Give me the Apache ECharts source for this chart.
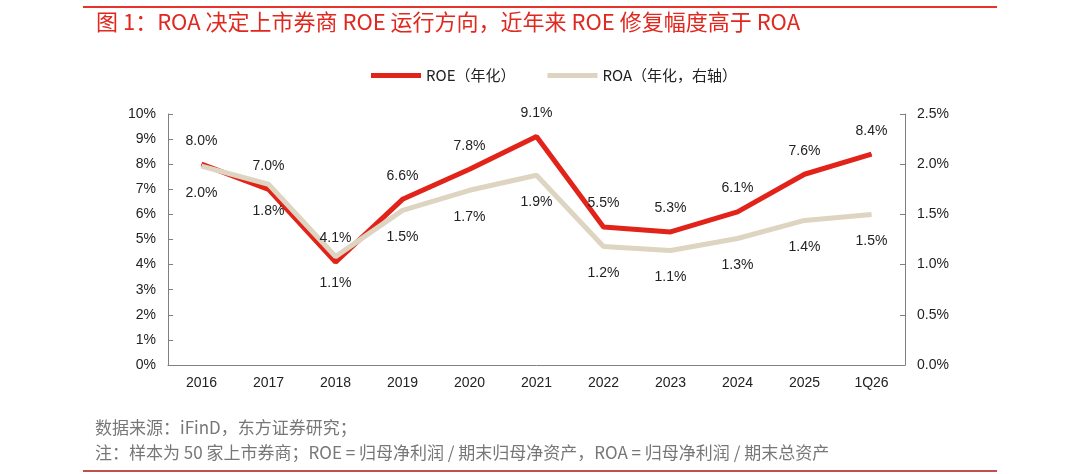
<!DOCTYPE html>
<html>
<head>
<meta charset="utf-8">
<script src="https://cdn.jsdelivr.net/npm/echarts@6/dist/echarts.min.js"></script>
<style>
    html, body {margin: 0; padding: 0; background: #fff;}
    #chart {width: 1080px; height: 474px;}
</style>
</head>
<body>
<div id="chart"></div>
<script>
const categories = ['2016', '2017', '2018', '2019', '2020', '2021', '2022', '2023', '2024', '2025', '1Q26'];
const roe = [8.0, 7.0, 4.1, 6.6, 7.8, 9.1, 5.5, 5.3, 6.1, 7.6, 8.4];
const roa = [1.98, 1.80, 1.08, 1.54, 1.74, 1.89, 1.18, 1.14, 1.26, 1.44, 1.50];
const leftTicks = {min: 0, max: 10, interval: 1};
const rightTicks = {min: 0, max: 2.5, interval: 0.5};

const font = '"Liberation Sans", Arial, sans-serif';
const cjk = '"Noto Sans CJK SC", sans-serif';
const axisColor = '#808080';

const pct = p => p.value.toFixed(1) + '%';

// tiny symbol in the line colour so the labels have something to hang on
const lineSeries = (name, data, color, axis, position, distance) => ({
    name,
    type: 'line',
    yAxisIndex: axis,
    data,
    symbol: 'circle',
    symbolSize: 1,
    showSymbol: true,
    color,
    itemStyle: {color},
    lineStyle: {width: 5, color},
    label: {
        show: true,
        position,
        distance,
        fontSize: 14,
        fontFamily: font,
        color: '#222',
        formatter: pct,
    },
});

const chart = echarts.init(document.getElementById('chart'));

chart.setOption({
    animation: false,
    textStyle: {fontFamily: font},
    grid: {left: 168, right: 175, top: 114, bottom: 109},
    legend: {
        top: 63,
        left: 366,
        itemWidth: 50,
        itemHeight: 5,
        itemGap: 32,
        icon: 'rect',
        textStyle: {fontFamily: cjk, fontSize: 15, color: '#222'},
        data: ['ROE（年化）', 'ROA（年化，右轴）'],
    },
    xAxis: {
        type: 'category',
        data: categories,
        axisLine: {lineStyle: {color: axisColor}},
        axisTick: {length: 5, lineStyle: {color: axisColor}},
        axisLabel: {fontSize: 14, color: '#222', margin: 11},
    },
    yAxis: [
        {
            type: 'value',
            ...leftTicks,
            splitLine: {show: false},
            axisLine: {show: true, lineStyle: {color: axisColor}},
            axisTick: {show: true, inside: true, length: 5, lineStyle: {color: axisColor}},
            axisLabel: {fontSize: 14, color: '#222', margin: 12, formatter: '{value}%'},
        },
        {
            type: 'value',
            ...rightTicks,
            splitLine: {show: false},
            axisLine: {show: true, lineStyle: {color: axisColor}},
            axisTick: {show: true, inside: true, length: 5, lineStyle: {color: axisColor}},
            axisLabel: {fontSize: 14, color: '#222', margin: 12, formatter: v => v.toFixed(1) + '%'},
        },
    ],
    series: [
        lineSeries('ROE（年化）', roe, '#e2231a', 0, 'top', 16),
        lineSeries('ROA（年化，右轴）', roa, '#ddd5c1', 1, 'bottom', 19),
    ],
    graphic: [
        {type: 'line', shape: {x1: 83, y1: 7, x2: 997, y2: 7}, style: {stroke: '#e8322a', lineWidth: 2}},
        {
            type: 'text', left: 96, top: 11,
            style: {
                text: '图 1：ROA 决定上市券商 ROE 运行方向，近年来 ROE 修复幅度高于 ROA',
                font: '22px ' + cjk, fill: '#e0281f',
            },
        },
        {
            type: 'text', left: 95, top: 419,
            style: {text: '数据来源：iFinD，东方证券研究；', font: '17px ' + cjk, fill: '#777'},
        },
        {
            type: 'text', left: 95, top: 444,
            style: {
                text: '注：样本为 50 家上市券商；ROE = 归母净利润 / 期末归母净资产，ROA = 归母净利润 / 期末总资产',
                font: '17px ' + cjk, fill: '#777',
            },
        },
        {type: 'line', shape: {x1: 83, y1: 471, x2: 997, y2: 471}, style: {stroke: '#c0504d', lineWidth: 2}},
    ],
});
</script>
</body>
</html>
